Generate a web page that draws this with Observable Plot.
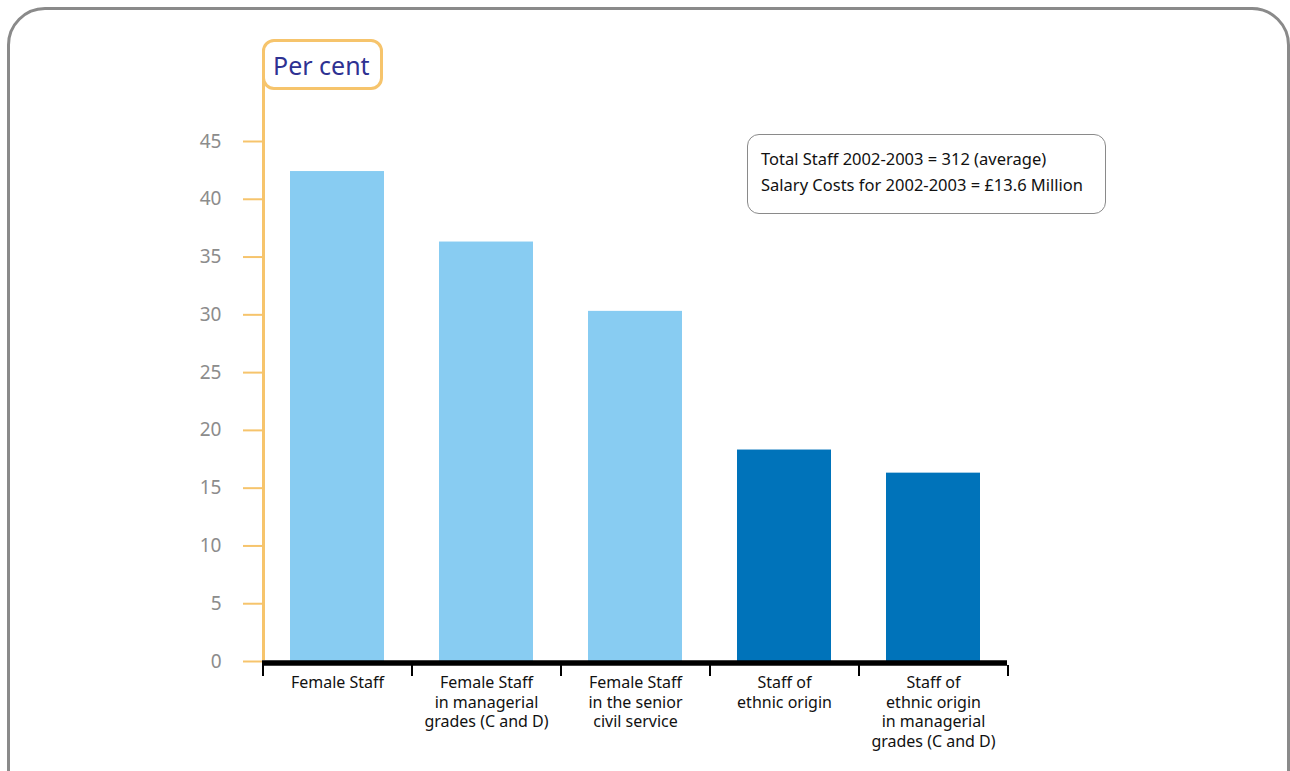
<!DOCTYPE html>
<html>
<head>
<meta charset="utf-8">
<script src="https://cdn.jsdelivr.net/npm/d3@7"></script>
<script src="https://cdn.jsdelivr.net/npm/@observablehq/plot@0.6"></script>
<style>
  body { margin: 0; background: #fff; font-family: "Noto Sans", sans-serif; }
  #page { position: relative; width: 1290px; height: 771px; overflow: hidden; }
  #frame { position: absolute; left: 7px; top: 7px; width: 1283px; height: 830px;
           border: 3px solid #8a8a8a; border-radius: 38px; box-sizing: border-box; }
  #yline { position: absolute; left: 262px; top: 60px; width: 3px; height: 600px; background: #F6C46C; }
  #ylabel { position: absolute; left: 262px; top: 39px; width: 121px; height: 51px;
            border: 3px solid #F6C46C; border-radius: 12px; box-sizing: border-box; background: #fff;
            display: flex; align-items: center; padding-left: 8px;
            font-size: 25px; color: #2E3192; }
  #note { position: absolute; left: 747px; top: 134px; width: 359px; height: 80px;
          border: 1.5px solid #8a8a8a; border-radius: 12px; box-sizing: border-box;
          padding: 11px 0 0 13px; font-size: 16.5px; line-height: 26px; color: #111; }
  #chart { position: absolute; left: 0; top: 0; }
</style>
</head>
<body>
<div id="page">
  <div id="frame"></div>
  <div id="yline"></div>
  <div id="ylabel">Per cent</div>
  <div id="note">Total Staff 2002-2003 = 312 (average)<br>Salary Costs for 2002-2003 = £13.6 Million</div>
  <div id="chart"></div>
</div>
<script>
// Staff composition, 2002-2003 (per cent)
const categories = [
  "Female Staff",
  "Female Staff\nin managerial\ngrades (C and D)",
  "Female Staff\nin the senior\ncivil service",
  "Staff of\nethnic origin",
  "Staff of\nethnic origin\nin managerial\ngrades (C and D)"
];
const values = [42.4, 36.3, 30.3, 18.3, 16.3];
const groups = ["Female", "Female", "Female", "Ethnic origin", "Ethnic origin"];
const yTicks = [0, 5, 10, 15, 20, 25, 30, 35, 40, 45];

const data = categories.map((c, i) => ({category: c, value: values[i], group: groups[i]}));

const W = 1290, H = 771;
const mLeft = 262, mRight = 283, mTop = 141, mBottom = 110;
const step = (W - mLeft - mRight) / categories.length;
const yellow = "#F6C46C";

const chart = Plot.plot({
  width: W,
  height: H,
  marginLeft: mLeft,
  marginRight: mRight,
  marginTop: mTop,
  marginBottom: mBottom,
  style: {fontFamily: "'Noto Sans', sans-serif", background: "transparent", overflow: "visible"},
  x: {domain: categories, paddingInner: 0.37, paddingOuter: 0.185},
  y: {domain: [0, 45]},
  color: {domain: ["Female", "Ethnic origin"], range: ["#88CCF2", "#0073BA"]},
  marks: [
    Plot.barY(data, {x: "category", y: "value", fill: "group"}),
    Plot.axisY({ticks: yTicks, tickSize: 19, tickPadding: 22, stroke: yellow, strokeWidth: 2,
                fill: "#8c8c8c", fontSize: 19, label: null}),
    Plot.axisX({tickSize: 0, tickPadding: 13, fontSize: 16, fill: "#111", lineHeight: 1.22, label: null}),
    Plot.ruleY([0], {stroke: "#000", strokeWidth: 5.5, dy: 1.5}),
    // category separators below the baseline
    Plot.ruleX(categories, {x: d => d, dx: -step / 2, y1: 0, y2: 0, insetTop: 4, insetBottom: -15,
                            stroke: "#000", strokeWidth: 2}),
    Plot.ruleX(categories.slice(-1), {x: d => d, dx: step / 2, y1: 0, y2: 0, insetTop: 4, insetBottom: -15,
                                      stroke: "#000", strokeWidth: 2})
  ]
});
document.getElementById("chart").appendChild(chart);
</script>
</body>
</html>
